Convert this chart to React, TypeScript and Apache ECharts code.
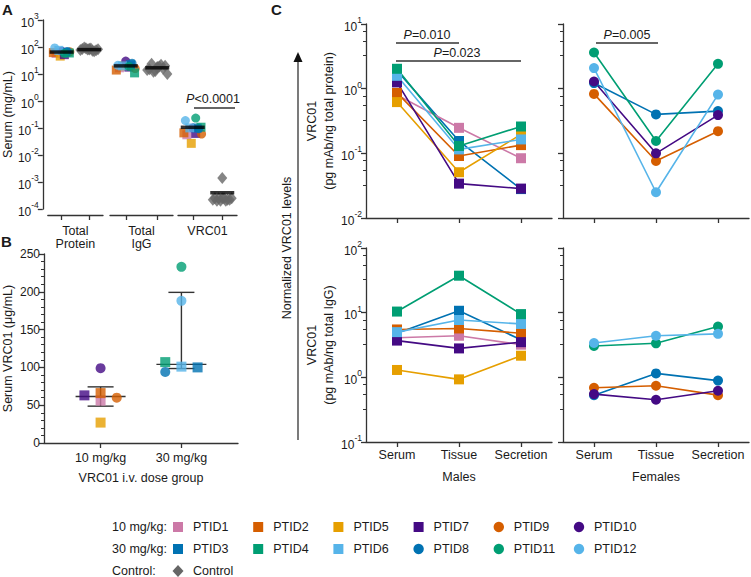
import React, { useEffect, useRef } from "react";
import * as echarts from "echarts";

const FONT = "'Liberation Sans', Arial, Helvetica, sans-serif";
const TXT = "#1a1a1a";
const AX = "#333333";
const CTRL_COLOR = "#666666";

// ---------- participants ----------
const ptids = ["PTID1", "PTID2", "PTID5", "PTID7", "PTID9", "PTID10", "PTID3", "PTID4", "PTID6", "PTID8", "PTID11", "PTID12"];
const doseIndex = [0, 0, 0, 0, 0, 0, 1, 1, 1, 1, 1, 1];
const sexes = ["M", "M", "M", "M", "F", "F", "M", "M", "M", "F", "F", "F"];
const ptColors = ["#CC79A7", "#D55E00", "#E69F00", "#440A84", "#D55E00", "#440A84", "#0072B2", "#009E73", "#56B4E9", "#0072B2", "#009E73", "#56B4E9"];
const ptShapes = ["rect", "rect", "rect", "rect", "circle", "circle", "rect", "rect", "rect", "circle", "circle", "circle"];

// ---------- panel A ----------
const groupsA = ["Total\nProtein", "Total\nIgG", "VRC01"];
const totalProteinPt = [58, 62, 46, 52, 66, 70, 64, 60, 75, 68, 58, 92]; // mg/mL
const totalIgGPt = [17, 14, 20, 18, 16, 30, 22, 11, 20, 25, 19, 21]; // mg/mL
const jitterA = [-0.2, -0.3, -0.05, 0.1, 0.3, 0.0, 0.15, 0.28, -0.1, 0.2, 0.1, -0.25];
const ctrlProtein = [80, 84, 76, 90, 72, 86, 78, 82, 95, 70, 88, 80];
const ctrlIgG = [17, 15, 20, 12, 22, 18, 14, 10, 24, 16, 19, 13];
const ctrlVRC01 = [0.0014, 0.00025, 0.00022, 0.00025, 0.0002, 0.00025, 0.00022, 0.00025, 0.0002, 0.00022, 0.00025, 0.0002];
const jitterCtrl = [0, -0.25, 0.25, -0.12, 0.12, 0, -0.32, 0.32, -0.18, 0.18, 0.06, -0.06];
const medianPt = [65, 20, 0.106];
const medianCtrl = [80, 17, 0.0004];
const yTicksA = [1e-4, 1e-3, 1e-2, 1e-1, 1, 10, 100, 1000];

// ---------- panel B ----------
const doseLabels = ["10 mg/kg", "30 mg/kg"];
const serumVRC01 = [56, 66, 27, 63, 60, 99, 100, 107, 101, 94, 233, 188]; // μg/mL
const jitterB = [0, 0, 0, -0.2, 0.2, 0, 0.2, -0.2, 0, -0.2, 0, 0];
const minorTicksB = [10, 20, 30, 40, 60, 70, 80, 90, 110, 120, 130, 140, 160, 170, 180, 190, 210, 220, 230, 240];

// ---------- panel C ----------
const sites = ["Serum", "Tissue", "Secretion"];
// pg mAb / ng total protein  [serum, tissue, secretion], aligned with ptids
const perProtein = [
  [0.8, 0.248, 0.084],
  [0.86, 0.091, 0.134],
  [0.62, 0.051, 0.196],
  [1.25, 0.034, 0.0285],
  [0.83, 0.076, 0.22],
  [1.29, 0.1, 0.39],
  [1.9, 0.155, 0.028],
  [2.03, 0.13, 0.26],
  [1.58, 0.115, 0.164],
  [1.22, 0.4, 0.45],
  [3.62, 0.155, 2.42],
  [2.08, 0.025, 0.81],
];
// pg mAb / ng total IgG
const perIgG = [
  [4.1, 4.4, 3.2],
  [5.5, 5.7, 4.8],
  [1.3, 0.93, 2.16],
  [3.7, 2.8, 3.5],
  [0.69, 0.74, 0.53],
  [0.55, 0.45, 0.62],
  [4.8, 10.7, 3.8],
  [10.4, 37.3, 9.5],
  [5.0, 7.7, 6.7],
  [0.53, 1.15, 0.89],
  [3.05, 3.36, 6.1],
  [3.4, 4.4, 4.7],
];
const drawOrder = [6, 0, 1, 2, 3, 8, 7, 9, 4, 5, 10, 11];
const minorMultipliers = [3.25, 5.5, 7.75];

function quantileGP(sorted: number[], p: number) {
  const n = sorted.length;
  const pos = (n + 1) * p;
  const lo = Math.max(1, Math.min(n, Math.floor(pos)));
  const hi = Math.max(1, Math.min(n, Math.ceil(pos)));
  const f = pos - Math.floor(pos);
  return sorted[lo - 1] + f * (sorted[hi - 1] - sorted[lo - 1]);
}

function logMinors(min: number, max: number) {
  const out: number[] = [];
  for (let k = Math.round(Math.log10(min)); k < Math.round(Math.log10(max)); k++) {
    minorMultipliers.forEach((m) => out.push(m * Math.pow(10, k)));
  }
  return out;
}

const logLabel = (show: boolean) => ({
  show,
  margin: 4,
  formatter: (v: number) => `{b|10}{s|${Math.round(Math.log10(v))}}`,
  rich: {
    b: { fontSize: 12, lineHeight: 17, verticalAlign: "bottom", fontFamily: FONT, color: TXT },
    s: { fontSize: 8.5, lineHeight: 9, verticalAlign: "top", fontFamily: FONT, color: TXT },
  },
});

const axLine = { show: true, onZero: false, lineStyle: { color: AX, width: 1.3 } };
const axTick = { show: true, length: 5, lineStyle: { color: AX, width: 1.3 } };

function pText(x: number, y: number, rest: string) {
  return {
    type: "text",
    x,
    y,
    style: {
      text: `{i|P}{n|${rest}}`,
      rich: {
        i: { fontStyle: "italic", fontSize: 12.5, fontFamily: FONT, fill: TXT, color: TXT },
        n: { fontSize: 12.5, fontFamily: FONT, fill: TXT, color: TXT },
      },
      align: "center",
      textAlign: "center",
      verticalAlign: "middle",
      textVerticalAlign: "middle",
    },
  };
}
function hLine(x1: number, x2: number, y: number) {
  return { type: "line", shape: { x1, y1: y, x2, y2: y }, style: { stroke: AX, lineWidth: 1.3 } };
}
function label(x: number, y: number, text: string, size = 12.5, extra: any = {}) {
  return {
    type: "text",
    x,
    y,
    style: {
      text,
      font: `${extra.bold ? "bold " : ""}${size}px ${FONT}`,
      fill: TXT,
      align: extra.align || "left",
      textAlign: extra.align || "left",
      verticalAlign: "middle",
      textVerticalAlign: "middle",
    },
  };
}

function minorYAxis(gi: number, type: string, min: number, max: number, values: number[]) {
  return {
    type,
    logBase: 10,
    gridIndex: gi,
    position: "left",
    min,
    max,
    axisLine: { show: false, onZero: false },
    axisTick: { show: true, length: 3, customValues: values, lineStyle: { color: AX, width: 1 } },
    axisLabel: { show: false },
    splitLine: { show: false },
  };
}

function buildOption() {
  const grid: any[] = [
    { left: 43, top: 20, width: 60, height: 189 },
    { left: 110, top: 20, width: 63, height: 189 },
    { left: 178, top: 20, width: 59, height: 189 },
    { left: 43, top: 254, width: 195, height: 189 },
    { left: 366, top: 24, width: 186, height: 194 },
    { left: 563, top: 24, width: 186, height: 194 },
    { left: 366, top: 248, width: 186, height: 194 },
    { left: 563, top: 248, width: 186, height: 194 },
  ];
  const xAxis: any[] = [];
  const yAxis: any[] = [];
  const extraY: any[] = [];
  const series: any[] = [];

  // ---- Panel A ----
  const ptA = [totalProteinPt, totalIgGPt, serumVRC01.map((v) => v / 1000)];
  const ctA = [ctrlProtein, ctrlIgG, ctrlVRC01];
  for (let g = 0; g < 3; g++) {
    xAxis.push({
      type: "value",
      gridIndex: g,
      min: -0.5,
      max: 1.5,
      offset: 6,
      axisLine: axLine,
      axisTick: { ...axTick, customValues: [0, 1] },
      axisLabel: { show: false },
      splitLine: { show: false },
      name: groupsA[g],
      nameLocation: "middle",
      nameGap: 9,
      nameTextStyle: { fontSize: 12.5, color: TXT, fontFamily: FONT, lineHeight: 13.5, verticalAlign: "top" },
    });
    yAxis.push({
      type: "log",
      logBase: 10,
      gridIndex: g,
      position: "left",
      min: 1e-4,
      max: 1e3,
      interval: 1,
      show: g === 0,
      offset: 5,
      axisLine: axLine,
      axisTick: { ...axTick, customValues: yTicksA },
      axisLabel: { ...logLabel(true), customValues: yTicksA },
      splitLine: { show: false },
      name: g === 0 ? "Serum (mg/mL)" : "",
      nameLocation: "middle",
      nameGap: 22,
      nameTextStyle: { fontSize: 12.5, color: TXT, fontFamily: FONT },
    });
    series.push({
      type: "scatter",
      xAxisIndex: g,
      yAxisIndex: g,
      symbolSize: 9,
      data: ptA[g].map((v, i) => ({
        value: [jitterA[i], v],
        symbol: ptShapes[i],
        itemStyle: { color: ptColors[i] },
      })),
      z: 3,
    });
    series.push({
      type: "scatter",
      xAxisIndex: g,
      yAxisIndex: g,
      symbol: "diamond",
      symbolSize: [10, 12],
      itemStyle: { color: CTRL_COLOR },
      data: ctA[g].map((v, j) => [1 + jitterCtrl[j], v]),
      z: 3,
    });
    series.push({
      type: "scatter",
      xAxisIndex: g,
      yAxisIndex: g,
      symbol: "rect",
      symbolSize: [24, 3.5],
      itemStyle: { color: "#000" },
      data: [
        [0, medianPt[g]],
        [1, medianCtrl[g]],
      ],
      z: 5,
    });
  }

  // ---- Panel B ----
  xAxis.push({
    type: "value",
    gridIndex: 3,
    min: -0.7,
    max: 1.7,
    axisLine: axLine,
    axisTick: { ...axTick, customValues: [0, 1] },
    axisLabel: {
      customValues: [0, 1],
      formatter: (v: number) => doseLabels[Math.round(v)] || "",
      fontSize: 12.5,
      color: TXT,
      fontFamily: FONT,
      margin: 8,
    },
    splitLine: { show: false },
    name: "VRC01 i.v. dose group",
    nameLocation: "middle",
    nameGap: 28,
    nameTextStyle: { fontSize: 12.5, color: TXT, fontFamily: FONT, verticalAlign: "top" },
  });
  yAxis.push({
    type: "value",
    gridIndex: 3,
    position: "left",
    min: 0,
    max: 250,
    interval: 50,
    axisLine: axLine,
    axisTick: axTick,
    axisLabel: { fontSize: 12, color: TXT, fontFamily: FONT, margin: 4 },
    splitLine: { show: false },
    name: "Serum VRC01 (μg/mL)",
    nameLocation: "middle",
    nameGap: 30,
    nameTextStyle: { fontSize: 12.5, color: TXT, fontFamily: FONT },
  });
  extraY.push(minorYAxis(3, "value", 0, 250, minorTicksB));
  const stats = [0, 1].map((d) => {
    const vals = serumVRC01.filter((_, i) => doseIndex[i] === d).sort((a, b) => a - b);
    return [d, quantileGP(vals, 0.5), quantileGP(vals, 0.25), quantileGP(vals, 0.75)];
  });
  series.push({
    type: "custom",
    xAxisIndex: 3,
    yAxisIndex: 3,
    encode: { x: 0, y: 1 },
    data: stats,
    z: 2,
    renderItem: (params: any, api: any) => {
      const x = api.value(0);
      const pm = api.coord([x, api.value(1)]);
      const p1 = api.coord([x, api.value(2)]);
      const p3 = api.coord([x, api.value(3)]);
      const st = { stroke: AX, lineWidth: 1.4 };
      return {
        type: "group",
        children: [
          { type: "line", shape: { x1: pm[0], y1: p1[1], x2: pm[0], y2: p3[1] }, style: st },
          { type: "line", shape: { x1: pm[0] - 13, y1: p1[1], x2: pm[0] + 13, y2: p1[1] }, style: st },
          { type: "line", shape: { x1: pm[0] - 13, y1: p3[1], x2: pm[0] + 13, y2: p3[1] }, style: st },
          { type: "line", shape: { x1: pm[0] - 25, y1: pm[1], x2: pm[0] + 25, y2: pm[1] }, style: st },
        ],
      };
    },
  });
  series.push({
    type: "scatter",
    xAxisIndex: 3,
    yAxisIndex: 3,
    symbolSize: 10,
    z: 3,
    data: serumVRC01.map((v, i) => ({
      value: [doseIndex[i] + jitterB[i], v],
      symbol: ptShapes[i],
      itemStyle: { color: ptColors[i] },
    })),
  });

  // ---- Panel C ----
  const cPanels = [
    { gi: 4, sex: "M", vals: perProtein, min: 0.01, max: 10, labels: true, bottom: false, name: "VRC01\n(pg mAb/ng total protein)" },
    { gi: 5, sex: "F", vals: perProtein, min: 0.01, max: 10, labels: false, bottom: false, name: "" },
    { gi: 6, sex: "M", vals: perIgG, min: 0.1, max: 100, labels: true, bottom: true, name: "VRC01\n(pg mAb/ng total IgG)", xname: "Males" },
    { gi: 7, sex: "F", vals: perIgG, min: 0.1, max: 100, labels: false, bottom: true, name: "", xname: "Females" },
  ];
  cPanels.forEach((p: any) => {
    xAxis.push({
      type: "category",
      gridIndex: p.gi,
      data: sites,
      boundaryGap: true,
      axisLine: axLine,
      axisTick: { ...axTick, alignWithLabel: true, interval: 0 },
      axisLabel: { show: p.bottom, interval: 0, fontSize: 12.5, color: TXT, fontFamily: FONT, margin: 6 },
      splitLine: { show: false },
      name: p.xname || "",
      nameLocation: "middle",
      nameGap: 28,
      nameTextStyle: { fontSize: 12.5, color: TXT, fontFamily: FONT, verticalAlign: "top" },
    });
    yAxis.push({
      type: "log",
      logBase: 10,
      gridIndex: p.gi,
      position: "left",
      min: p.min,
      max: p.max,
      interval: 1,
      axisLine: axLine,
      axisTick: axTick,
      axisLabel: logLabel(p.labels),
      splitLine: { show: false },
      name: p.name,
      nameLocation: "middle",
      nameGap: 29,
      nameTextStyle: { fontSize: 12.5, color: TXT, fontFamily: FONT, lineHeight: 17 },
    });
    extraY.push(minorYAxis(p.gi, "log", p.min, p.max, logMinors(p.min, p.max)));
    drawOrder.forEach((i) => {
      if (sexes[i] !== p.sex) return;
      series.push({
        type: "line",
        name: ptids[i],
        xAxisIndex: p.gi,
        yAxisIndex: p.gi,
        symbol: ptShapes[i],
        symbolSize: 10,
        showAllSymbol: true,
        lineStyle: { color: ptColors[i], width: 1.6 },
        itemStyle: { color: ptColors[i] },
        data: p.vals[i],
        z: 3,
      });
    });
  });

  // ---- graphics: panel letters, p-values, arrow, legend ----
  const graphic: any[] = [
    label(2, 9, "A", 15, { bold: true }),
    label(1, 241, "B", 15, { bold: true }),
    label(271, 9, "C", 15, { bold: true }),
    pText(213, 99, "<0.0001"),
    hLine(194, 235, 108),
    pText(427, 35, "=0.010"),
    hLine(396, 459, 43),
    pText(457, 53, "=0.023"),
    hLine(396, 521, 61),
    pText(627, 35, "=0.005"),
    hLine(596, 658, 43),
    { type: "line", shape: { x1: 298, y1: 440, x2: 298, y2: 60 }, style: { stroke: AX, lineWidth: 1.3 } },
    { type: "polygon", shape: { points: [[298, 52], [293.5, 62], [302.5, 62]] }, style: { fill: "#111" } },
    {
      type: "text",
      x: 287,
      y: 248,
      rotation: Math.PI / 2,
      style: {
        text: "Normalized VRC01 levels",
        font: `12.5px ${FONT}`,
        fill: TXT,
        align: "center",
        textAlign: "center",
        verticalAlign: "middle",
        textVerticalAlign: "middle",
      },
    },
  ];
  const legendRows = [
    { title: "10 mg/kg:", y: 527, items: ptids.map((_, i) => i).filter((i) => doseIndex[i] === 0) },
    { title: "30 mg/kg:", y: 549, items: ptids.map((_, i) => i).filter((i) => doseIndex[i] === 1) },
  ];
  legendRows.forEach((row) => {
    graphic.push(label(112, row.y, row.title, 12.5));
    row.items.forEach((i, k) => {
      const cx = 178 + k * 80.2;
      if (ptShapes[i] === "rect") {
        graphic.push({ type: "rect", shape: { x: cx - 5, y: row.y - 5, width: 10, height: 10 }, style: { fill: ptColors[i] } });
      } else {
        graphic.push({ type: "circle", shape: { cx, cy: row.y, r: 5.2 }, style: { fill: ptColors[i] } });
      }
      graphic.push(label(cx + 15, row.y, ptids[i], 12.5));
    });
  });
  graphic.push(label(112, 571, "Control:", 12.5));
  graphic.push({ type: "polygon", shape: { points: [[178, 565], [183.5, 571], [178, 577], [172.5, 571]] }, style: { fill: CTRL_COLOR } });
  graphic.push(label(193, 571, "Control", 12.5));

  return {
    animation: false,
    backgroundColor: "#ffffff",
    textStyle: { fontFamily: FONT, color: TXT },
    grid,
    xAxis,
    yAxis: [...yAxis, ...extraY],
    series,
    graphic,
  };
}

export default function App() {
  const ref = useRef<HTMLDivElement>(null);
  useEffect(() => {
    document.body.style.margin = "0";
    if (!ref.current) return;
    const chart = echarts.init(ref.current, undefined, { renderer: "svg" });
    chart.setOption(buildOption() as any);
    return () => chart.dispose();
  }, []);
  return <div ref={ref} style={{ width: 751, height: 577, background: "#fff" }} />;
}
